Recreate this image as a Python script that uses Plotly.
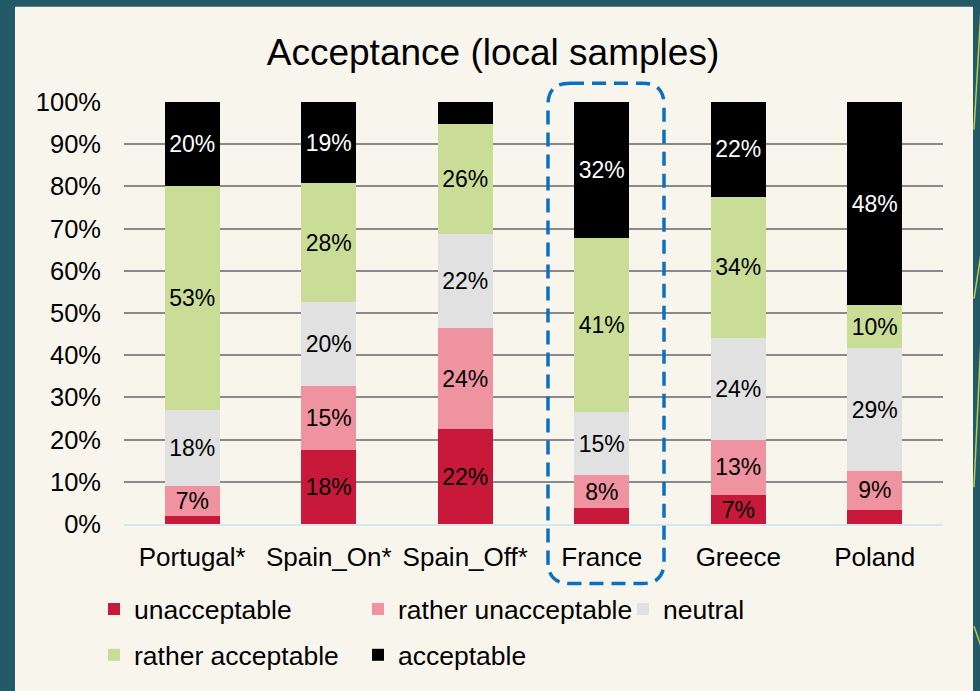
import plotly.graph_objects as go

# ---------------- data ----------------
categories = ["Portugal*", "Spain_On*", "Spain_Off*", "France", "Greece", "Poland"]
series_names = ["unacceptable", "rather unacceptable", "neutral", "rather acceptable", "acceptable"]
unacceptable = [2.0, 17.6, 22.4, 3.8, 6.8, 3.4]
rather_unacceptable = [7.0, 15.0, 24.0, 7.8, 13.2, 9.1]
neutral = [18.0, 19.9, 22.3, 14.9, 24.0, 29.1]
rather_acceptable = [53.0, 28.2, 26.1, 41.2, 33.6, 10.2]
acceptable = [20.0, 19.3, 5.2, 32.3, 22.4, 48.2]
y_tick_values = [0, 10, 20, 30, 40, 50, 60, 70, 80, 90, 100]
y_tick_labels = ["0%", "10%", "20%", "30%", "40%", "50%", "60%", "70%", "80%", "90%", "100%"]

series_values = [unacceptable, rather_unacceptable, neutral, rather_acceptable, acceptable]
colors = ["#c8193a", "#f093a1", "#e1e1e1", "#c9dd96", "#000000"]
text_colors = ["#000000", "#000000", "#000000", "#000000", "#ffffff"]
legend_ids = ["legend", "legend2", "legend3", "legend4", "legend5"]

W, H = 980, 691
L, R, T, B = 124, 943, 102, 527  # plot area in pixels
font_family = "Liberation Sans, Arial, sans-serif"

def px_x(px):
    return (px - L) / (R - L)

def px_y(py):
    return (B - py) / (B - T)

fig = go.Figure()
for name, vals, col, tcol, lg in zip(series_names, series_values, colors, text_colors, legend_ids):
    labels = [f"{v:.0f}%" if v >= 6 else "" for v in vals]
    fig.add_trace(go.Bar(
        x=categories, y=vals, name=name, legend=lg,
        marker=dict(color=col, line=dict(width=0)),
        width=0.4,
        text=labels, textposition="inside", insidetextanchor="middle",
        textangle=0, constraintext="none",
        insidetextfont=dict(color=tcol, size=23, family=font_family),
        hoverinfo="skip",
    ))

# legend placement (pixel positions of each legend block)
legend_pos = {
    "legend": (94, 613),
    "legend2": (358, 613),
    "legend3": (623, 613),
    "legend4": (94, 659),
    "legend5": (358, 659),
}
legend_layout = {}
for lg, (lx, ly) in legend_pos.items():
    legend_layout[lg] = dict(
        x=px_x(lx), y=px_y(ly), xanchor="left", yanchor="middle",
        bgcolor="rgba(0,0,0,0)", borderwidth=0,
        font=dict(size=26.5, color="#000000", family=font_family),
        itemclick=False, itemdoubleclick=False,
    )

shapes = []
# cream panel
shapes.append(dict(type="rect", xref="paper", yref="paper", layer="below",
                   x0=px_x(15), x1=px_x(973), y0=px_y(6), y1=px_y(H + 30),
                   fillcolor="#f8f6ec", line=dict(width=0)))
# decorative lines at right edge
for (x0, y0, x1, y1) in [(981, 8, 974, 130), (981, 255, 974, 300), (981, 340, 974, 490), (974, 630, 981, 650)]:
    shapes.append(dict(type="line", xref="paper", yref="paper", layer="below",
                       x0=px_x(x0), y0=px_y(y0), x1=px_x(x1), y1=px_y(y1),
                       line=dict(color="#b9cf3f", width=1.5)))

# dashed rounded box around France
bx0, bx1, by0, by1, rr = 548, 664, 83, 587, 22
def P(x, y):
    return f"{px_x(x):.5f},{px_y(y):.5f}"
path = (f"M {P(bx0 + rr, by0)} L {P(bx1 - rr, by0)} Q {P(bx1, by0)} {P(bx1, by0 + rr)} "
        f"L {P(bx1, by1 - rr)} Q {P(bx1, by1)} {P(bx1 - rr, by1)} "
        f"L {P(bx0 + rr, by1)} Q {P(bx0, by1)} {P(bx0, by1 - rr)} "
        f"L {P(bx0, by0 + rr)} Q {P(bx0, by0)} {P(bx0 + rr, by0)} Z")
shapes.append(dict(type="path", xref="paper", yref="paper", path=path, layer="above",
                   line=dict(color="#0a70c2", width=3.5, dash="14px,8px")))

fig.update_layout(
    width=W, height=H,
    margin=dict(l=L, r=W - R, t=T, b=H - B, pad=0),
    paper_bgcolor="#245a68",
    plot_bgcolor="rgba(0,0,0,0)",
    barmode="stack",
    font=dict(family=font_family, color="#000000"),
    title=dict(text="Acceptance (local samples)", xref="container", yref="container",
               x=493 / W, y=1 - 52 / H, xanchor="center", yanchor="middle",
               font=dict(size=37, color="#000000", family=font_family)),
    xaxis=dict(showgrid=False, showline=True, linecolor="#d4e8f0", linewidth=2,
               ticks="", tickfont=dict(size=26, color="#000000"), ticklabelstandoff=9,
               zeroline=False),
    yaxis=dict(range=[0, 100], tickvals=y_tick_values, ticktext=y_tick_labels,
               showgrid=True, gridcolor="#8a8a8a", gridwidth=1.5, zeroline=False,
               showline=False, ticks="", tickfont=dict(size=25.5, color="#000000"),
               ticklabelstandoff=22),
    shapes=shapes,
    showlegend=True,
    **legend_layout,
)

fig.write_html(
    "out.html",
    config={"displayModeBar": False},
    post_script="document.body.style.margin='0';document.body.style.background='#245a68';",
)
